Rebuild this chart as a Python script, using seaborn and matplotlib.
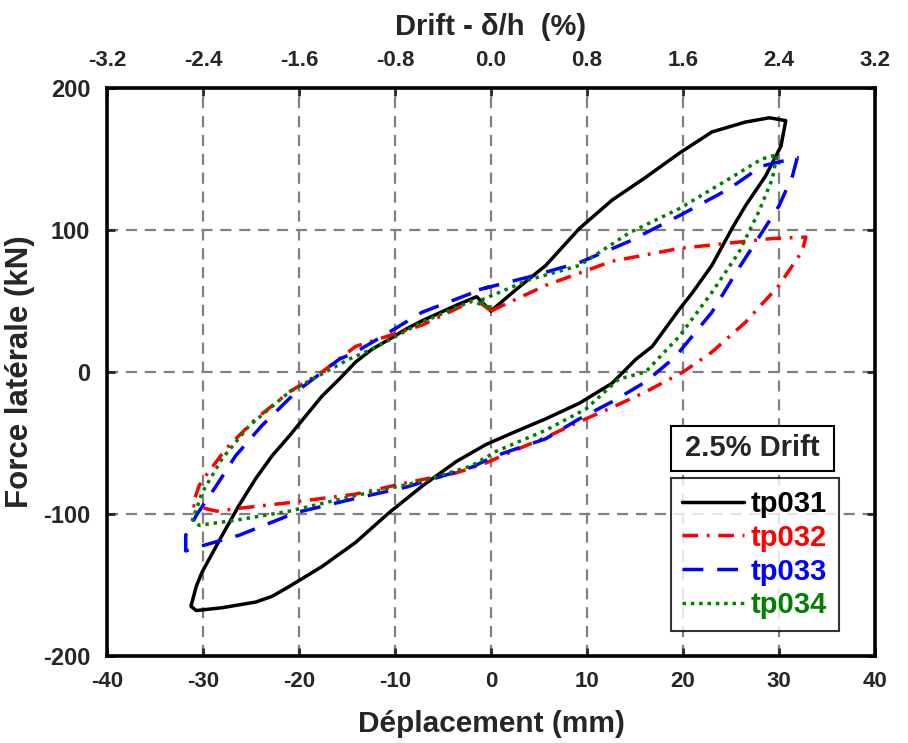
import matplotlib
matplotlib.use("Agg")
import matplotlib.pyplot as plt
from matplotlib.patches import Rectangle
import seaborn as sns
import pandas as pd

# ---- data (displacement mm, force kN) ----
tp031_x = [0, 2.6, 5.7, 9.2, 12.6, 16.1, 19.6, 23.0, 26.5, 29.0, 30.7, 30.2, 28.6, 26.5, 25.1,
           23.0, 21.0, 19.6, 16.8, 15.1, 12.6, 9.2, 5.7, 2.2, -0.5, -3.6, -7.1, -10.6, -14.1,
           -17.6, -21.0, -22.8, -24.5, -28.0, -30.7, -31.25, -30.7, -30.1, -28.0, -26.25,
           -24.5, -22.8, -21.0, -19.3, -17.6, -15.8, -14.1, -12.4, -10.6, -8.9, -7.2, -3.6,
           -1.5, 0]
tp031_y = [43, 58, 75, 101, 121, 137, 154, 169, 176, 179, 177, 159, 138, 117, 101,
           75, 56, 44, 18, 9, -8, -22, -33, -43, -51, -63, -80, -99, -120,
           -137, -151, -158, -162, -166, -168, -165, -151, -141, -115, -94,
           -75, -59, -45, -31, -17, -5, 7, 16, 23, 30, 36, 47,
           53, 43]

tp032_x = [0, 5.7, 12.6, 19.6, 26.5, 29.3, 32.8, 32.4, 30.0, 26.5, 23.0, 20.0, 16.1, 12.6,
           9.2, 5.7, 2.2, -0.5, -3.6, -8.8, -14.1, -21.0, -26.25, -28.6, -31.1, -30.4,
           -29.7, -27.6, -24.5, -21.0, -17.6, -14.1, -7.2, -1.6, 0]
tp032_y = [43, 61, 78, 87, 92, 94, 95, 85, 61, 35, 14, 0, -14, -25,
           -35, -46, -56, -64, -71, -78, -86, -92, -96, -98, -94, -80,
           -73, -54, -33, -14, 0, 18, 33, 51, 43]

tp033_x = [-1.25, 4.0, 9.2, 14.4, 19.6, 24.8, 28.2, 31.9, 31.4, 30.0, 28.2, 25.8, 23.0, 19.6,
           18.9, 16.1, 12.6, 9.2, 5.7, 0.5, -2.0, -8.8, -14.1, -20.3, -26.25, -30.4, -31.8,
           -31.8, -30.7, -28.6, -26.6, -23.9, -20.3, -15.8, -14.1, -10.6, -7.2, -2.6, -0.2]
tp033_y = [58, 67, 77, 92, 110, 129, 145, 151, 138, 117, 98, 73, 42, 14,
           9, -7, -21, -33, -47, -59, -67, -81, -89, -99, -115, -123, -126,
           -115, -101, -80, -59, -38, -14, 9, 14, 28, 42, 54, 60]

tp034_x = [0, -1.25, 4.0, 9.2, 14.4, 19.6, 24.8, 28.2, 29.8, 29.3, 27.9, 25.8, 23.0, 19.6,
           16.1, 13.3, 9.9, 5.7, 0.5, -2.0, -7.2, -14.1, -21.0, -26.25, -30.4, -31.1,
           -30.7, -30.1, -28.0, -25.2, -21.0, -14.8, -12.4, -7.2, -2.0, 0]
tp034_y = [45, 50, 65, 75, 98, 115, 136, 150, 153, 136, 113, 84, 56, 25,
           0, -5, -26, -41, -56, -66, -77, -87, -98, -104, -108, -104,
           -97, -85, -61, -38, -14, 9, 16, 35, 50, 45]

names = ["tp031", "tp032", "tp033", "tp034"]
colors = ["black", "red", "blue", "green"]
xticks = [-40, -30, -20, -10, 0, 10, 20, 30, 40]
yticks = [-200, -100, 0, 100, 200]
drift_ticks = [-3.2, -2.4, -1.6, -0.8, 0.0, 0.8, 1.6, 2.4, 3.2]

series = {"tp031": (tp031_x, tp031_y), "tp032": (tp032_x, tp032_y),
          "tp033": (tp033_x, tp033_y), "tp034": (tp034_x, tp034_y)}

frames = []
for n in names:
    xs, ys = series[n]
    frames.append(pd.DataFrame({"disp": xs, "force": ys, "spec": n}))
df = pd.concat(frames, ignore_index=True)

sns.set_style("white")
plt.rcParams["font.family"] = ["Liberation Sans", "DejaVu Sans"]
plt.rcParams["font.weight"] = "bold"
plt.rcParams["axes.unicode_minus"] = False

fig = plt.figure(figsize=(9.08, 7.43), dpi=100)
ax = fig.add_axes([0.1178, 0.1171, 0.8459, 0.7645])

dash_map = {"tp031": None,
            "tp032": (4.5, 2.5, 0.8, 2.5),
            "tp033": (6, 4),
            "tp034": (1, 1.4)}
for n, c in zip(names, colors):
    sub = df[df.spec == n]
    sns.lineplot(data=sub, x="disp", y="force", sort=False, estimator=None,
                 color=c, lw=2.5, ax=ax, label=n)
    line = ax.lines[-1]
    if dash_map[n]:
        line.set_dashes(dash_map[n])

ax.set_xlim(-40, 40)
ax.set_ylim(-200, 200)
ax.set_xticks(xticks)
ax.set_yticks(yticks)
ax.grid(True, color="#808080", ls=(0, (5, 3.5)), lw=1.6)
for s in ax.spines.values():
    s.set_linewidth(2.6)
    s.set_color("black")
ax.tick_params(axis="x", direction="in", length=6, width=2, labelsize=16,
               top=False, bottom=True, pad=11)
ax.tick_params(axis="y", direction="in", length=6, width=2, labelsize=17,
               left=True, right=True, pad=12)
for lab in ax.get_xticklabels() + ax.get_yticklabels():
    lab.set_fontweight("bold")
ax.set_xlabel("Déplacement (mm)", fontsize=21.5, fontweight="bold", labelpad=13)
ax.set_ylabel("Force latérale (kN)", fontsize=22.5, fontweight="bold", labelpad=6)

sec = ax.secondary_xaxis("top", functions=(lambda x: x / 12.5, lambda d: d * 12.5))
sec.set_xticks(drift_ticks)
sec.set_xticklabels([f"{t:.1f}" for t in drift_ticks], fontweight="bold")
sec.tick_params(direction="in", length=6, width=2, labelsize=16, pad=12)
sec.set_xlabel("Drift - δ/h  (%)", fontsize=21, fontweight="bold", labelpad=11)

leg = ax.legend(loc="upper left", bbox_to_anchor=(0.734, 0.313), frameon=True,
                fancybox=False, edgecolor="black", fontsize=21, handlelength=2.1,
                handletextpad=0.25, labelspacing=0.2, borderpad=0.4,
                borderaxespad=0.0)
leg.get_frame().set_linewidth(1.5)
for t, c in zip(leg.get_texts(), colors):
    t.set_color(c)
    t.set_fontweight("bold")

ax.add_patch(Rectangle((0.734, 0.326), 0.213, 0.079, transform=ax.transAxes,
                       fc="white", ec="black", lw=1.5, zorder=5))
ax.text(0.8405, 0.3655, "2.5% Drift", transform=ax.transAxes, ha="center", va="center",
        fontsize=21, fontweight="bold", zorder=6)

fig.savefig("out.png", dpi=100)
